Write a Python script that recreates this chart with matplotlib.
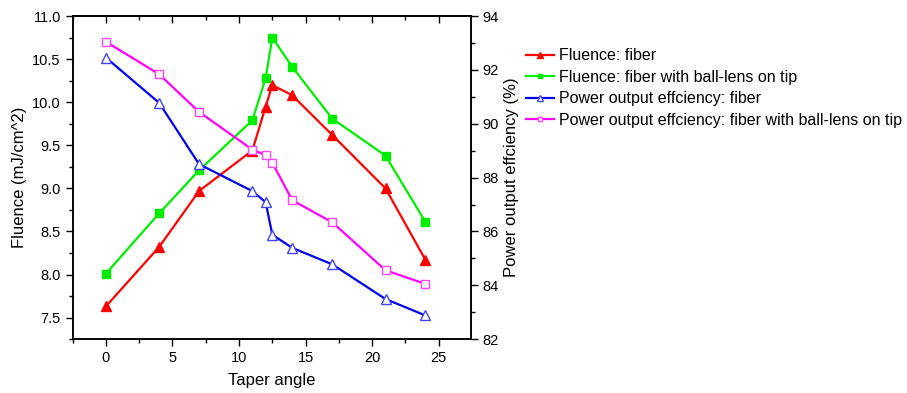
import matplotlib
matplotlib.use("Agg")
import matplotlib.pyplot as plt
from matplotlib.ticker import MultipleLocator, FormatStrFormatter

plt.rcParams["font.family"] = ["Liberation Sans", "DejaVu Sans"]

# ============================================================
# Data
# ============================================================
taper = [0, 4, 7, 11, 12, 12.5, 14, 17, 21, 24]

fluence_fiber = [7.63, 8.32, 8.97, 9.44, 9.95, 10.20, 10.08, 9.62, 9.00, 8.17]
fluence_ball = [8.01, 8.71, 9.21, 9.79, 10.28, 10.75, 10.41, 9.81, 9.38, 8.61]

eff_fiber = [92.46, 90.78, 88.50, 87.50, 87.09, 85.88, 85.39, 84.78, 83.49, 82.88]
eff_ball = [93.05, 91.84, 90.44, 89.04, 88.84, 88.55, 87.16, 86.34, 84.56, 84.05]

labels = [
    "Fluence: fiber",
    "Fluence: fiber with ball-lens on tip",
    "Power output effciency: fiber",
    "Power output effciency: fiber with ball-lens on tip",
]

# ============================================================
# Plot
# ============================================================
fig = plt.figure(figsize=(9.07, 3.93), dpi=100)
ax = fig.add_axes([0.080, 0.137, 0.439, 0.822])
ax2 = ax.twinx()

h1, = ax.plot(taper, fluence_fiber, color="#ff0000", lw=1.6, marker="^", ms=7,
              mfc="#ff0000", mec="#ff0000", label=labels[0])
h2, = ax.plot(taper, fluence_ball, color="#00ee00", lw=1.6, marker="s", ms=5.5,
              mfc="#00ee00", mec="#00ee00", label=labels[1])
h3, = ax2.plot(taper, eff_fiber, color="#0000ee", lw=1.6, marker="^", ms=7,
               mfc="white", mec="#4444ff", mew=1.0, label=labels[2])
h4, = ax2.plot(taper, eff_ball, color="#ff00ff", lw=1.6, marker="s", ms=6,
               mfc="white", mec="#ff44ff", mew=1.0, label=labels[3])

ax.set_xlim(-2.5, 27.4)
ax.set_ylim(7.25, 11.0)
ax2.set_ylim(82, 94)

ax.xaxis.set_major_locator(MultipleLocator(5))
ax.xaxis.set_minor_locator(MultipleLocator(2.5))
ax.yaxis.set_major_locator(MultipleLocator(0.5))
ax.yaxis.set_minor_locator(MultipleLocator(0.25))
ax.yaxis.set_major_formatter(FormatStrFormatter("%.1f"))
ax2.yaxis.set_major_locator(MultipleLocator(2))
ax2.yaxis.set_minor_locator(MultipleLocator(1))

ax.tick_params(axis="both", which="major", direction="out", length=5, width=1,
               labelsize=10.5)
ax.tick_params(axis="both", which="minor", direction="out", length=3, width=1)
ax2.tick_params(axis="y", which="major", direction="out", length=5, width=1,
                labelsize=10.5)
ax2.tick_params(axis="y", which="minor", direction="out", length=3, width=1)

top = ax.secondary_xaxis("top")
top.xaxis.set_major_locator(MultipleLocator(5))
top.xaxis.set_minor_locator(MultipleLocator(2.5))
top.tick_params(which="major", direction="in", length=5, width=1, labeltop=False)
top.tick_params(which="minor", direction="in", length=3, width=1)

for a in (ax, ax2):
    for s in a.spines.values():
        s.set_linewidth(1.1)
top.spines["top"].set_linewidth(1.1)

ax.set_xlabel("Taper angle", fontsize=12, labelpad=6)
ax.set_ylabel("Fluence (mJ/cm^2)", fontsize=12)
ax2.set_ylabel("Power output effciency (%)", fontsize=12)

fig.legend(handles=[h1, h2, h3, h4], loc="upper left",
           bbox_to_anchor=(0.580, 0.877), frameon=False, fontsize=11.5,
           handlelength=1.75, handletextpad=0.3, labelspacing=0.4,
           markerscale=0.6, borderaxespad=0, borderpad=0)

fig.savefig("out.png", dpi=100)
